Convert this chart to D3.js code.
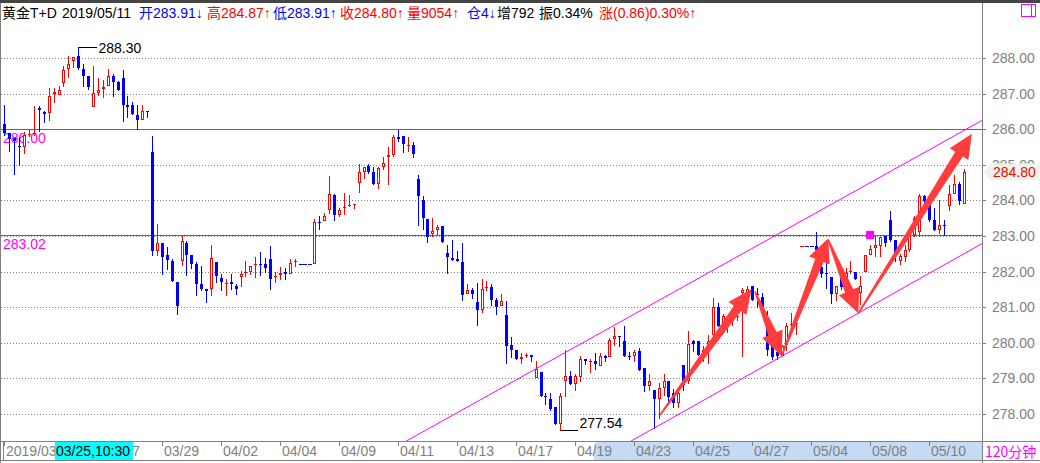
<!DOCTYPE html>
<html><head><meta charset="utf-8">
<script src="https://cdn.jsdelivr.net/npm/d3@7/dist/d3.min.js"></script>
<style>
html,body{margin:0;padding:0;background:#fff;overflow:hidden;}
svg{display:block;font-family:"Liberation Sans",Arial,"Noto Sans CJK SC",sans-serif;}
</style></head><body>
<svg id="c" width="1040" height="463"></svg>
<script>
// ---------------- data (120-minute bars, 黄金T+D) ----------------
const openV = [
286.16,285.88,285.76,285.54,285.50,285.85,285.87,286.60,286.47,286.46,
286.99,286.96,287.30,287.69,287.92,288.05,287.69,287.50,286.63,287.02,
287.13,287.21,287.50,287.32,287.44,286.69,286.69,286.41,286.25,286.52,
285.35,282.57,282.79,282.48,282.31,281.72,282.29,282.80,282.48,282.22,
281.66,281.50,281.50,282.27,281.83,281.67,281.70,281.60,281.85,281.96,
282.00,282.18,282.22,282.20,282.34,281.87,281.90,281.98,281.92,282.28,
282.22,282.22,282.22,282.22,283.40,283.41,283.72,284.16,283.60,283.78,
283.83,283.90,284.49,284.79,284.97,284.80,284.47,284.93,285.21,285.28,
285.78,285.81,285.55,285.56,284.60,284.02,283.49,283.07,283.16,283.27,
282.52,282.38,282.36,282.27,281.36,281.48,281.15,280.92,281.54,281.57,
281.19,281.02,280.79,279.94,279.79,279.54,279.65,279.66,279.01,279.18,
278.50,278.42,278.19,277.73,278.94,279.07,278.85,279.04,279.55,279.47,
279.48,279.36,279.62,279.60,280.10,280.20,280.04,279.64,279.62,279.76,
279.29,278.79,278.68,278.42,278.73,278.93,278.60,278.31,279.38,278.92,
280.04,280.04,279.75,279.76,280.22,281.00,280.50,280.44,280.60,280.74,
281.40,281.35,281.60,281.36,281.30,280.50,279.95,279.75,279.64,279.94,
280.52,280.53,282.71,282.71,282.71,282.71,282.13,281.97,281.84,281.36,
281.96,281.70,282.00,282.00,281.40,282.00,282.48,282.66,282.71,282.99,
283.46,282.90,282.29,282.40,282.62,283.04,283.10,284.11,283.97,283.46,
283.16,283.32,283.83,284.19,284.46,283.91];
const highV = [
286.69,285.90,285.76,285.76,285.92,285.99,286.64,286.66,286.52,287.16,
287.16,287.20,287.77,288.07,288.03,288.30,287.84,287.50,287.77,287.44,
287.39,287.70,287.56,287.35,287.67,286.92,286.77,286.69,286.69,286.52,
285.81,283.35,282.79,282.68,282.36,281.72,283.01,282.87,282.48,282.27,
282.17,281.52,282.76,282.27,281.94,281.78,281.92,281.66,282.03,282.31,
282.17,282.40,282.54,282.37,282.71,282.00,282.12,282.10,282.36,282.36,
282.22,282.22,282.22,283.49,283.57,283.64,284.69,284.19,283.79,284.21,
284.15,283.91,285.02,284.95,285.02,284.95,284.93,285.23,285.49,285.84,
285.98,285.81,285.78,285.64,284.70,284.13,283.49,283.50,283.32,283.29,
282.76,282.90,282.57,282.80,281.65,281.54,281.68,281.78,281.75,281.64,
281.26,281.37,281.18,280.16,279.80,279.71,279.71,279.66,279.48,279.18,
278.59,278.59,278.19,278.59,279.79,279.21,279.12,279.62,279.55,279.55,
279.71,279.71,279.66,280.13,280.43,280.20,280.48,279.73,279.80,279.85,
279.29,279.13,278.68,278.87,279.13,278.93,278.70,278.75,279.38,280.32,
280.08,280.04,279.90,280.22,281.25,281.11,280.80,280.55,280.85,280.87,
281.53,281.60,281.60,281.55,281.40,280.90,280.10,279.80,279.95,280.55,
280.84,280.84,282.71,282.71,282.71,283.10,282.30,282.24,281.84,281.60,
281.96,282.10,282.29,282.00,281.89,282.48,282.76,282.99,282.96,282.99,
283.69,282.90,282.50,282.75,283.04,283.55,284.19,284.16,284.02,283.78,
284.02,283.46,284.44,284.72,284.53,284.87];
const lowV = [
285.85,285.38,284.73,284.99,285.32,285.80,285.84,285.94,286.21,286.27,
286.76,286.95,287.21,287.47,287.75,287.69,287.20,287.14,286.63,286.97,
286.90,287.21,286.93,287.09,286.22,286.35,286.44,286.00,286.25,286.35,
282.48,282.46,281.92,282.06,281.73,280.82,282.18,281.90,282.10,281.33,
281.47,281.14,281.33,281.70,281.47,281.33,281.52,281.38,281.60,281.87,
281.92,281.84,281.90,281.98,281.50,281.70,281.79,281.78,281.92,282.15,
282.22,282.22,282.22,282.22,283.20,283.41,283.64,283.44,283.55,283.63,
283.83,283.78,284.25,284.64,284.77,284.47,284.36,284.88,284.47,285.26,
285.68,285.37,285.40,285.23,283.32,283.21,282.82,282.99,283.04,282.82,
281.96,282.32,282.29,281.21,281.36,281.26,280.51,280.86,281.48,281.07,
280.82,281.02,279.43,279.60,279.54,279.43,279.60,279.50,279.01,278.50,
278.29,278.10,277.73,277.54,278.51,278.85,278.68,278.94,279.40,279.18,
279.27,279.36,279.48,279.60,279.94,279.92,279.62,279.55,279.48,279.24,
278.66,278.68,277.61,277.89,278.54,278.36,278.20,278.20,278.68,278.87,
279.76,279.66,279.50,279.43,280.18,280.46,280.40,280.30,280.50,280.65,
279.62,281.30,281.20,281.00,280.80,279.65,279.55,279.55,279.62,279.80,
280.28,280.24,282.71,282.71,282.71,282.48,281.85,281.54,281.12,281.20,
281.50,281.60,281.96,281.79,281.08,282.00,282.48,282.43,282.43,282.73,
282.85,282.30,282.20,282.30,282.57,282.99,282.99,283.92,283.41,283.16,
283.08,283.04,283.72,284.19,283.90,283.91];
const closeV = [
285.88,285.73,285.68,285.49,285.85,285.87,285.90,286.53,286.42,286.94,
287.04,287.11,287.67,287.84,288.03,287.72,287.49,287.18,287.02,287.11,
287.19,287.50,287.32,287.09,286.69,286.62,286.44,286.25,286.50,286.50,
282.57,282.80,282.40,282.32,281.73,281.03,282.87,282.48,282.22,281.66,
281.52,281.45,282.38,281.87,281.70,281.69,281.66,281.50,281.94,282.00,
282.17,282.22,282.18,282.10,281.80,281.89,281.96,281.92,282.24,282.29,
282.22,282.22,282.22,283.39,283.37,283.57,284.19,283.60,283.74,283.81,
283.87,283.91,284.79,284.95,284.81,284.47,284.91,285.05,285.27,285.78,
285.73,285.58,285.57,285.30,284.11,283.50,282.97,283.15,283.25,282.82,
282.41,282.32,282.29,281.34,281.48,281.38,280.92,281.51,281.56,281.21,
281.00,281.18,279.92,279.79,279.54,279.60,279.66,279.60,279.26,278.50,
278.47,278.15,277.73,278.51,279.07,278.85,279.06,279.55,279.48,279.48,
279.41,279.62,279.58,280.08,280.20,280.18,279.64,279.61,279.73,279.24,
278.79,278.92,278.42,278.73,278.92,278.48,278.30,278.59,278.82,279.97,
279.97,279.66,279.80,280.04,281.00,280.46,280.74,280.46,280.80,280.76,
281.48,281.50,281.20,281.34,280.93,279.80,279.60,279.62,279.90,280.46,
280.54,280.55,282.71,282.71,282.71,282.62,281.92,281.96,281.36,281.59,
281.56,281.95,282.01,281.79,281.59,282.48,282.64,282.76,282.96,282.80,
282.90,282.43,282.43,282.62,282.99,283.50,284.11,283.97,283.46,283.18,
283.32,283.30,284.19,284.46,283.97,284.80];

// price axis ticks
const yTickValues = [278,279,280,281,282,283,284,285,286,287,288];
// date axis: bar index of each label and its text
const dateIdx    = [0, 20, 32, 44, 56, 68, 80, 92, 104, 116, 128, 140, 152, 164, 176, 188];
const dateLabels = ["2019/03/22","03/27","03/29","04/02","04/04","04/09","04/11","04/13",
                    "04/17","04/19","04/23","04/25","04/27","05/04","05/08","05/10"];
// user-drawn horizontal levels
const levelValues = [286.00, 283.02];
const levelLabels = ["286.00", "283.02"];
// channel lines [barIndex, price]
const channelUpper = [[81.7, 277.24], [198.8, 286.25]];
const channelLower = [[127.4, 277.24], [198.8, 282.79]];
// red arrows: [tailIndex, tailPrice, tipIndex, tipPrice]
const arrowsData = [
  [133.3, 277.97, 151.9, 281.51],
  [152.6, 281.44, 158.0, 279.63],
  [158.0, 279.63, 167.5, 282.94],
  [167.5, 282.89, 173.6, 280.83],
  [173.6, 280.83, 196.7, 285.87]
];
const markerPoint = [176.0, 283.03];
const maxIdx = 15, minIdx = 113;
const lastClose = 284.80;

// ---------------- drawing ----------------
const N = openV.length;
const W = 1040, H = 463, plotRight = 982, axisTop = 441;
const svg = d3.select("#c");
const xi = d3.scaleLinear().domain([0, N]).range([2, 966]);
const xc = i => xi(i + 0.5);
const y = d3.scaleLinear().domain([278, 288]).range([414, 58]);
const RED = "#ff0000", BLUE = "#0000ff", MAG = "#ff00ff", GRAY = "#808080";

// top frame
svg.append("rect").attr("x",0).attr("y",0).attr("width",W).attr("height",3).attr("fill","#454545");

// header
const hdr = [
 {x:2, t:"黄金T+D", c:"#000"},
 {x:62, t:"2019/05/11", c:"#000"},
 {x:139, t:"开283.91↓", c:BLUE},
 {x:207, t:"高284.87↑", c:RED},
 {x:273, t:"低283.91↑", c:BLUE},
 {x:340, t:"收284.80↑", c:RED},
 {x:407, t:"量9054↑", c:RED},
 {x:467, t:"仓4↓", c:BLUE},
 {x:497, t:"增792", c:"#000"},
 {x:539, t:"振0.34%", c:"#000"},
 {x:599, t:"涨(0.86)0.30%↑", c:RED}
];
svg.append("g").selectAll("text").data(hdr).join("text")
  .attr("x", d=>d.x).attr("y", 18).attr("font-size", 14).attr("fill", d=>d.c).text(d=>d.t);

// grid
svg.append("g").selectAll("line").data(yTickValues).join("line")
  .attr("x1", 1).attr("x2", plotRight)
  .attr("y1", d=>Math.round(y(d))+0.5).attr("y2", d=>Math.round(y(d))+0.5)
  .attr("stroke", GRAY).attr("stroke-dasharray","1,2").attr("shape-rendering","crispEdges");

// left border
svg.append("line").attr("x1",0.5).attr("x2",0.5).attr("y1",3).attr("y2",H).attr("stroke",GRAY);

// magenta levels
const lv = svg.append("g");
lv.selectAll("line").data(levelValues).join("line")
  .attr("x1",1).attr("x2",plotRight)
  .attr("y1", d=>Math.round(y(d))+0.5).attr("y2", d=>Math.round(y(d))+0.5)
  .attr("stroke", MAG).attr("shape-rendering","crispEdges");

// candles
const bars = d3.range(N).map(i => ({i, o:openV[i], h:highV[i], l:lowV[i], c:closeV[i],
  prev: i>0 ? closeV[i-1] : closeV[i]}));
const cg = svg.append("g").attr("shape-rendering","crispEdges");
bars.forEach(b => {
  const L = Math.round(xc(b.i)) - 1;
  const wx = L + 1.5;
  const yH = Math.round(y(b.h)), yL = Math.round(y(b.l));
  if (b.h === b.l) {
    const col = b.c > b.prev ? RED : BLUE;
    cg.append("line").attr("x1", L-0.5).attr("x2", L+3.5).attr("y1", yH+0.5).attr("y2", yH+0.5).attr("stroke", col);
    return;
  }
  const up = b.c >= b.o;
  const col = up ? RED : BLUE;
  const yT = Math.round(y(Math.max(b.o,b.c))), yB = Math.round(y(Math.min(b.o,b.c)));
  if (yB - yT <= 1) {
    cg.append("line").attr("x1",wx).attr("x2",wx).attr("y1",yH).attr("y2",yL+1).attr("stroke",col);
    cg.append("line").attr("x1",L).attr("x2",L+3).attr("y1",yT+0.5).attr("y2",yT+0.5).attr("stroke",col);
    return;
  }
  if (up) {
    if (yT > yH) cg.append("line").attr("x1",wx).attr("x2",wx).attr("y1",yH).attr("y2",yT).attr("stroke",col);
    if (yL > yB) cg.append("line").attr("x1",wx).attr("x2",wx).attr("y1",yB).attr("y2",yL+1).attr("stroke",col);
    cg.append("rect").attr("x",L+0.5).attr("y",yT+0.5).attr("width",2).attr("height",yB-yT-1)
      .attr("fill","#fff").attr("stroke",col);
  } else {
    cg.append("line").attr("x1",wx).attr("x2",wx).attr("y1",yH).attr("y2",yL+1).attr("stroke",col);
    cg.append("rect").attr("x",L).attr("y",yT).attr("width",3).attr("height",yB-yT).attr("fill",col);
  }
});

// level labels (magenta, left)
lv.selectAll("text").data(levelValues).join("text")
  .attr("x", 3).attr("y", d=>Math.round(y(d))+14).attr("font-size",14).attr("fill",MAG)
  .text((d,k)=>levelLabels[k]);

// max / min labels
{
  const cx = Math.round(xc(maxIdx)) + 0.5, yy = Math.round(y(highV[maxIdx])) + 0.5;
  svg.append("line").attr("x1",cx).attr("x2",cx+18).attr("y1",yy).attr("y2",yy).attr("stroke","#000").attr("shape-rendering","crispEdges");
  svg.append("text").attr("x",cx+20).attr("y",yy+5.5).attr("font-size",14).attr("fill","#000").text(highV[maxIdx].toFixed(2));
  const cx2 = Math.round(xc(minIdx)) + 0.5, yy2 = Math.round(y(lowV[minIdx])) + 0.5;
  svg.append("line").attr("x1",cx2).attr("x2",cx2+17).attr("y1",yy2).attr("y2",yy2).attr("stroke","#000").attr("shape-rendering","crispEdges");
  svg.append("text").attr("x",cx2+19).attr("y",yy2-3).attr("font-size",14).attr("fill","#000").text(lowV[minIdx].toFixed(2));
}

// channel lines
const clip = svg.append("clipPath").attr("id","pc").append("rect").attr("x",1).attr("y",3).attr("width",plotRight-1).attr("height",axisTop-3);
const line = d3.line().x(d=>xi(d[0]+0.5)).y(d=>y(d[1]));
svg.append("g").attr("clip-path","url(#pc)").selectAll("path").data([channelUpper, channelLower]).join("path")
  .attr("d", line).attr("fill","none").attr("stroke",MAG).attr("stroke-width",1);

// magenta marker
svg.append("rect").attr("x", xc(markerPoint[0])-4).attr("y", y(markerPoint[1])-4).attr("width",8).attr("height",8).attr("fill",MAG);

// arrows
function arrowPts(tx,ty,px,py){
  const dx=px-tx, dy=py-ty, len=Math.hypot(dx,dy), ux=dx/len, uy=dy/len, nx=-uy, ny=ux;
  const hl=24, hw=11, sw=4.5, tw=0.8;
  const bx=px-ux*hl, by=py-uy*hl;
  return [[tx+nx*tw,ty+ny*tw],[bx+nx*sw,by+ny*sw],[bx+nx*hw,by+ny*hw],[px,py],
          [bx-nx*hw,by-ny*hw],[bx-nx*sw,by-ny*sw],[tx-nx*tw,ty-ny*tw]];
}
svg.append("g").selectAll("polygon").data(arrowsData).join("polygon")
  .attr("points", d => arrowPts(xi(d[0]+0.5), y(d[1]), xi(d[2]+0.5), y(d[3])).map(p=>p.join(",")).join(" "))
  .attr("fill","#ff3d3d");

// right axis
svg.append("line").attr("x1",plotRight+0.5).attr("x2",plotRight+0.5).attr("y1",3).attr("y2",H).attr("stroke",GRAY);
const ax = svg.append("g").attr("transform",`translate(${plotRight},0)`)
  .call(d3.axisRight(y).tickValues(yTickValues).tickFormat(d3.format(".2f")).tickSize(4).tickPadding(6));
ax.select(".domain").remove();
ax.selectAll("line").attr("stroke",GRAY).attr("shape-rendering","crispEdges");
ax.selectAll("text").attr("fill",GRAY).attr("font-size",14).attr("font-family","Liberation Sans, Arial, sans-serif");

// last price flag
{
  const yc = y(lastClose);
  svg.append("path").attr("d",`M${plotRight+1},${yc} L${plotRight+9},${yc-8.5} L${W},${yc-8.5} L${W},${yc+8.5} L${plotRight+9},${yc+8.5} Z`)
    .attr("fill","#ecf5ec");
  svg.append("text").attr("x",993).attr("y",yc).attr("dy","0.36em").attr("font-size",14).attr("fill",RED).text(lastClose.toFixed(2));
}

// top-right icon
svg.append("rect").attr("x",1021.5).attr("y",4.5).attr("width",14).attr("height",12).attr("fill","none").attr("stroke",MAG).attr("shape-rendering","crispEdges");
svg.append("line").attr("x1",1031.5).attr("x2",1031.5).attr("y1",4.5).attr("y2",16.5).attr("stroke",MAG).attr("shape-rendering","crispEdges");

// bottom date axis
const bx = svg.append("g");
bx.append("rect").attr("x",1).attr("y",axisTop).attr("width",plotRight-1).attr("height",20).attr("fill","#fff");
bx.append("path").attr("d",`M594,460 L594,446 Q594,442 598,442 L${plotRight},442 L${plotRight},460 Z`).attr("fill","#c5daf3");
bx.append("line").attr("x1",0).attr("x2",W).attr("y1",axisTop+0.5).attr("y2",axisTop+0.5).attr("stroke",GRAY).attr("shape-rendering","crispEdges");
bx.append("line").attr("x1",0).attr("x2",W).attr("y1",460.5).attr("y2",460.5).attr("stroke",GRAY).attr("shape-rendering","crispEdges");
bx.append("line").attr("x1",3.5).attr("x2",3.5).attr("y1",axisTop).attr("y2",461).attr("stroke",GRAY).attr("shape-rendering","crispEdges");
bx.append("line").attr("x1",plotRight+0.5).attr("x2",plotRight+0.5).attr("y1",axisTop).attr("y2",H).attr("stroke",GRAY);
// labels
const labelSpans = dateIdx.map((d,k)=>({x: Math.round(xc(d))+2, w: dateLabels[k].length*7.5}));
const minorTicks = d3.range(0, N, 4).map(i=>i).filter(i => {
  const px = Math.round(xc(i));
  return !labelSpans.some(s => px > s.x && px < s.x + s.w);
});
bx.selectAll("line.tk").data(minorTicks).join("line").attr("class","tk")
  .attr("x1", d=>Math.round(xc(d))+0.5).attr("x2", d=>Math.round(xc(d))+0.5)
  .attr("y1", axisTop+1).attr("y2", axisTop+5).attr("stroke",GRAY).attr("shape-rendering","crispEdges");
bx.selectAll("text").data(dateIdx).join("text")
  .attr("x", d=>Math.round(xc(d))+2).attr("y", 456).attr("font-size",14).attr("fill",GRAY)
  .text((d,k)=>dateLabels[k]);
// cursor time box
bx.append("rect").attr("x",55).attr("y",442).attr("width",78).attr("height",18).attr("fill","#00ffff");
bx.append("text").attr("x",56).attr("y",456).attr("font-size",14).attr("fill","#000").text("03/25,10:30");
// period label
svg.append("text").attr("x",985).attr("y",457).attr("font-size",14).attr("fill",MAG).attr("font-family","Noto Sans CJK SC, sans-serif").text("120分钟");
</script>
</body></html>
